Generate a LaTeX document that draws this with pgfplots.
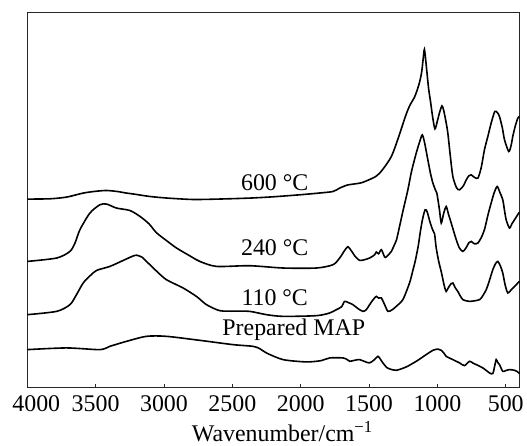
\documentclass[border=0pt]{standalone}
\usepackage{fontspec}
\setmainfont{Liberation Serif}
\usepackage{pgfplots}
\pgfplotsset{compat=1.18}
\begin{document}
\begin{tikzpicture}
\begin{axis}[
  name=main,
  scale only axis,
  width=492.7bp, height=375.6bp,
  xmin=400, xmax=4000, x dir=reverse,
  ymin=11.7, ymax=387.3,
  ytick=\empty,
  xtick={500,1000,...,3500},
  extra x ticks={4000},
  extra x tick style={major tick length=0bp, xticklabel style={xshift=9bp}},
  xtick pos=bottom,
  tick align=inside,
  major tick length=4bp,
  axis line style={black!85, line width=0.9bp},
  tick style={black!85, line width=0.8bp},
  /pgf/number format/assume math mode=true,
  /pgf/number format/1000 sep={},
  tick label style={font=\fontsize{24}{28}\selectfont},
  xlabel={Wavenumber/cm\textsuperscript{−1}},
  label style={font=\fontsize{24}{28}\selectfont},
  xticklabel style={yshift=-4bp},
  xlabel style={yshift=-3bp, xshift=9bp},
  clip=false,
]
% 600 C
\addplot[black, line width=1.6bp, smooth, tension=0.45] coordinates {
(4000,200.7) (3833,201) (3712,202.7) (3591,206.7) (3500,208.5) (3420,209.3) (3342,208.3) (3274,206.7) (3219,205.7) (3103,203.3) (2974,201.7) (2789,200.3) (2605,200.7) (2373,201.7) (2200,203) (2007,205) (1868,206.7) (1764,208.3) (1715,211.7) (1660,214.7) (1600,216) (1549,217.3) (1451,223.3) (1402,230) (1337,243.3) (1291,260) (1230,285) (1200,295) (1170,302) (1150,309) (1130,318) (1115,328) (1105,340) (1095,350.5) (1082,335) (1065,312) (1050,298) (1035,283) (1018,271) (1000,279) (985,287) (967,294) (955,290) (940,280) (924,267) (905,243) (887,223.3) (860,212) (838,210) (810,214) (789,220) (770,224) (753,225) (730,222.5) (704,221.7) (680,232) (656,250) (630,264) (607,276.7) (580,288.5) (560,287) (546,283.3) (525,272) (509,260) (478,248.3) (460,255) (449,263.3) (430,274) (412,281.7) (400,283.3)
};
% 240 C
\addplot[black, line width=1.6bp, smooth, tension=0.45] coordinates {
(4000,138.3) (3785,141.7) (3688,148.3) (3650,157) (3615,170) (3542,186.7) (3469,195) (3420,195.7) (3347,191.7) (3250,189.3) (3177,183.5) (3110,176) (3055,167) (2980,159) (2908,151.7) (2800,143) (2738,138.3) (2616,133.3) (2373,134) (2129,131.7) (1885,131.7) (1764,135) (1715,141.7) (1680,149) (1655,153) (1630,149) (1600,143) (1569,139.3) (1547,139.5) (1496,141.7) (1459,145) (1447,147.7) (1430,146) (1410,150) (1386,142.7) (1372,143) (1337,148.3) (1320,153.3) (1299,160) (1277,173.3) (1250,190) (1216,210) (1190,228) (1155,246.7) (1130,258) (1111,265) (1095,258) (1070,240) (1050,226) (1033,216.7) (1015,210) (1004,206.7) (985,190) (972,176.7) (955,186) (936,193.3) (920,186) (899,176.7) (880,168) (862,160) (840,152) (814,148.3) (790,152) (770,157) (753,158.3) (730,156) (704,156.7) (680,162) (656,170) (630,185) (607,196.7) (585,207) (563,213.3) (545,208) (522,200) (510,190) (497,180) (473,171.7) (455,176) (436,180) (405,186.7) (400,187.5)
};
% 110 C
\addplot[black, line width=1.6bp, smooth, tension=0.45] coordinates {
(4000,85) (3785,88.3) (3688,95) (3640,105) (3591,116.7) (3540,124) (3493,129.3) (3396,133.3) (3298,139.3) (3230,143.5) (3200,144.5) (3160,142.5) (3128,138.3) (3050,128) (2982,120) (2860,111.7) (2760,103) (2689,95) (2592,89) (2480,88.5) (2373,88.3) (2250,85) (2129,83.3) (1885,84) (1788,86.7) (1739,90) (1700,93) (1679,98.3) (1650,97) (1618,95) (1580,91) (1545,88.3) (1520,90) (1496,95) (1470,100) (1447,103.3) (1430,101.5) (1410,101.7) (1386,95) (1362,88.3) (1330,90) (1301,93.3) (1253,100) (1204,116.7) (1180,129) (1160,140) (1140,154) (1125,168) (1108,181) (1090,190) (1075,188) (1055,178) (1035,170) (1021,166) (1009,152) (990,138) (972,128) (950,114) (936,108.3) (920,112) (900,116) (887,116.7) (870,112) (851,108.3) (830,103) (814,100) (765,98.3) (692,100) (668,104) (643,110) (620,119) (595,130) (575,136) (558,138.3) (540,134) (522,126.7) (505,115) (485,106.7) (460,110) (436,113.3) (400,118.3)
};
% Prepared MAP
\addplot[black, line width=1.6bp, smooth, tension=0.45] coordinates {
(4000,50) (3712,51.7) (3469,50) (3396,53.3) (3274,58.3) (3128,63.3) (2982,63.3) (2738,59.3) (2495,55) (2349,53.3) (2300,51) (2251,46.7) (2129,40) (1958,37.7) (1850,39) (1788,41.7) (1691,41.7) (1660,40) (1642,38.3) (1600,39.5) (1569,40) (1530,38) (1496,36.7) (1460,40) (1435,43.3) (1415,40) (1399,36.7) (1370,32) (1350,30.7) (1301,29.3) (1228,32.7) (1155,38.3) (1082,45) (1030,49.5) (995,50.5) (972,49.3) (950,46) (936,43.3) (887,40) (838,36.7) (802,34) (765,38.3) (740,36.5) (716,35) (668,31.7) (619,26.7) (595,26) (582,33) (570,40) (558,37) (546,35) (522,28.3) (500,29) (473,30) (436,29.3) (415,28) (400,26)
};
\node[font=\fontsize{24}{28}\selectfont] at (axis cs:2190,217) {600 °C};
\node[font=\fontsize{24}{28}\selectfont] at (axis cs:2190,152) {240 °C};
\node[font=\fontsize{24}{28}\selectfont] at (axis cs:2190,102) {110 °C};
\node[font=\fontsize{24}{28}\selectfont] at (axis cs:2051,70) {Prepared MAP};
\end{axis}
\path ([xshift=-27.3bp,yshift=12.7bp]main.north west) rectangle ([xshift=7bp,yshift=-56.7bp]main.south east);
\end{tikzpicture}
\end{document}
